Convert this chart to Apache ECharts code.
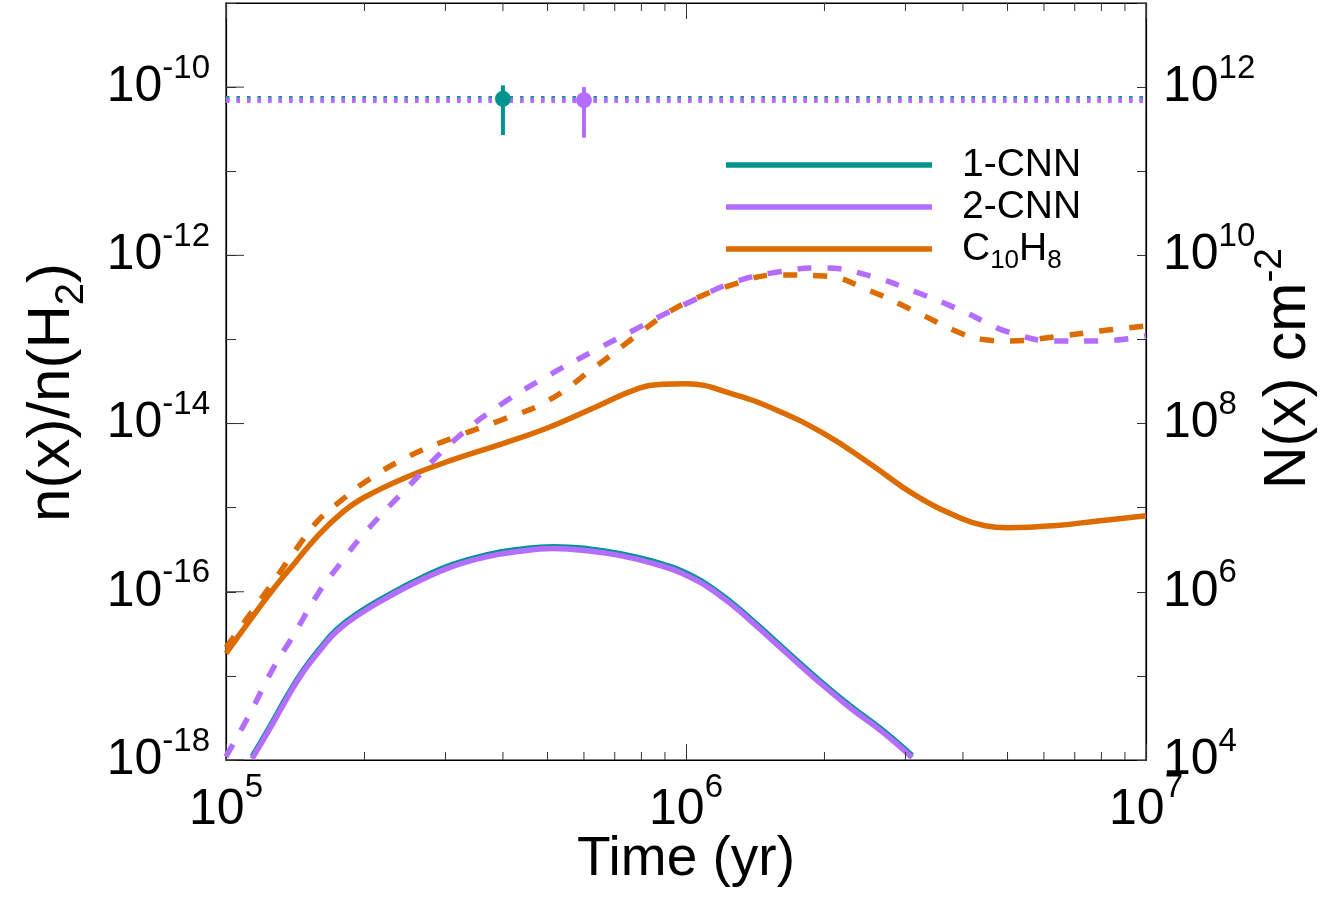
<!DOCTYPE html>
<html><head><meta charset="utf-8">
<script src="https://cdn.jsdelivr.net/npm/echarts@6/dist/echarts.min.js"></script>
<style>html,body{margin:0;padding:0;background:#fff}#c{width:1338px;height:901px}</style>
</head><body><div id="c"></div>
<script>
// ---- data ----
const timeGrid = [1e5, 1.122e5, 1.259e5, 1.413e5, 1.585e5, 1.778e5, 1.995e5, 2.512e5, 3.162e5, 3.981e5, 5.012e5, 6.310e5, 7.943e5, 8.913e5,
  1e6, 1.259e6, 1.585e6, 1.995e6, 2.512e6, 3.162e6, 3.981e6, 4.467e6, 5.012e6, 6.310e6, 7.943e6, 1e7];
const c10h8Solid = [1.85e-17, 4.43e-17, 1.03e-16, 2.22e-16, 4.65e-16, 8.5e-16, 1.32e-15, 2.40e-15, 3.82e-15, 5.75e-15, 8.9e-15, 1.54e-14, 2.66e-14, 2.93e-14,
  2.97e-14, 2.26e-14, 1.42e-14, 7.57e-15, 3.33e-15, 1.39e-15, 7.4e-16, 6.1e-16, 5.78e-16, 6.1e-16, 7.0e-16, 8.0e-16];
const c10h8Dashed = [2.17e-17, 5.21e-17, 1.25e-16, 3.08e-16, 7.0e-16, 1.21e-15, 1.98e-15, 4.15e-15, 6.97e-15, 1.11e-14, 1.87e-14, 4.60e-14, 1.20e-13, 1.91e-13,
  2.72e-13, 4.45e-13, 5.85e-13, 5.69e-13, 3.78e-13, 2.13e-13, 1.17e-13, 9.9e-14, 9.6e-14, 1.07e-13, 1.26e-13, 1.45e-13];
const cnn2Dashed = [1.10e-18, 3.39e-18, 1.16e-17, 3.27e-17, 9.5e-17, 2.22e-16, 4.91e-16, 1.87e-15, 6.59e-15, 1.72e-14, 3.70e-14, 7.33e-14, 1.41e-13, 1.96e-13,
  2.65e-13, 4.70e-13, 6.35e-13, 7.08e-13, 5.69e-13, 3.67e-13, 2.19e-13, 1.62e-13, 1.23e-13, 9.6e-14, 9.6e-14, 1.10e-13];

const cnnTime = [1.14e5, 1.25e5, 1.36e5, 1.47e5, 1.6e5, 1.74e5, 1.96e5, 2.24e5, 2.64e5, 3.1e5, 3.7e5, 4.36e5, 5.14e5, 6.1e5, 7.2e5, 8.5e5,
  9.85e5, 1.17e6, 1.38e6, 1.63e6, 1.93e6, 2.27e6, 2.68e6, 3.1e6];
const cnn1Solid = [1.10e-18, 2.58e-18, 5.85e-18, 1.16e-17, 2.11e-17, 3.56e-17, 5.82e-17, 9.0e-17, 1.44e-16, 2.10e-16, 2.77e-16, 3.21e-16, 3.44e-16,
  3.26e-16, 2.84e-16, 2.29e-16, 1.74e-16, 1.0e-16, 4.8e-17, 2.11e-17, 9.3e-18, 4.45e-18, 2.25e-18, 1.13e-18];
const cnn2Solid = [1.04e-18, 2.44e-18, 5.53e-18, 1.10e-17, 2.0e-17, 3.37e-17, 5.51e-17, 8.53e-17, 1.36e-16, 1.99e-16, 2.62e-16, 3.04e-16, 3.26e-16,
  3.08e-16, 2.69e-16, 2.16e-16, 1.64e-16, 9.5e-17, 4.55e-17, 2.0e-17, 8.8e-18, 4.21e-18, 2.13e-18, 1.07e-18];

const levelTime = [1e5, 1e7];
const cnn1Level = 7.26e-11;
const cnn2Level = 7.0e-11;

const obsTime = [4.0e5, 6.0e5];
const obsValue = [7.26e-11, 7.0e-11];
const obsLow = [2.69e-11, 2.5e-11];
const obsHigh = [1.05e-10, 1.0e-10];

const xMinorTicks = [2e5, 3e5, 4e5, 5e5, 6e5, 7e5, 8e5, 9e5, 2e6, 3e6, 4e6, 5e6, 6e6, 7e6, 8e6, 9e6];
const yLongTicks = [1e-18, 1e-16, 1e-14, 1e-12, 1e-10];

// ---- styling ----
const TEAL = '#009490', PURPLE = '#b46eff', ORANGE = '#dc6c00';
const FONT = 'Liberation Sans';
const TICK = '#333';
const zip = (xs, ys) => xs.map((x, i) => [x, ys[i]]);

function expLabel(v, evenOnly) {
  const e = Math.round(Math.log10(v));
  if (evenOnly && Math.abs(e) % 2 === 1) return '';
  return '{b|10}{s|' + e + '}';
}
const yLabelRich = {
  b: { fontSize: 50, lineHeight: 60, verticalAlign: 'bottom', fontFamily: FONT, color: '#000' },
  s: { fontSize: 33, verticalAlign: 'top', fontFamily: FONT, color: '#000' }
};
const xLabelRich = {
  b: { fontSize: 50, lineHeight: 64, verticalAlign: 'bottom', fontFamily: FONT, color: '#000' },
  s: { fontSize: 33, verticalAlign: 'top', fontFamily: FONT, color: '#000' }
};

function lineSeries(name, data, color, dashed) {
  return {
    name, type: 'line', data, symbol: 'none', smooth: 0.45,
    xAxisIndex: 0, yAxisIndex: 0,
    color,
    lineStyle: { color, width: 5.5, type: dashed ? [14, 16] : 'solid', cap: 'butt' },
    itemStyle: { color },
    z: 3
  };
}

const chart = echarts.init(document.getElementById('c'), null, { renderer: 'canvas' });
chart.setOption({
  backgroundColor: '#fff',
  animation: false,
  grid: { left: 226, right: 192, top: 3, bottom: 141, show: true, borderColor: '#000', borderWidth: 1.2,
    backgroundColor: 'transparent', containLabel: false, outerBoundsMode: 'none' },
  legend: {
    data: ['1-CNN', '2-CNN', 'C10H8'],
    orient: 'vertical', left: 721, top: 135,
    itemWidth: 206, itemHeight: 5.5, itemGap: -8,
    icon: 'rect', selectedMode: false,
    formatter: n => n === 'C10H8' ? '{n|C}{sub|10}{n|H}{sub|8}' : n,
    textStyle: {
      fontSize: 39, lineHeight: 50, color: '#000', fontFamily: FONT, padding: [0, 0, 0, 25],
      rich: {
        n: { fontSize: 39, lineHeight: 50, verticalAlign: 'middle', fontFamily: FONT, color: '#000' },
        sub: { fontSize: 26, verticalAlign: 'bottom', fontFamily: FONT, color: '#000' }
      }
    }
  },
  xAxis: [
    {
      type: 'log', logBase: 10, min: 1e5, max: 1e7, position: 'bottom',
      name: 'Time (yr)', nameLocation: 'middle', nameGap: 72, nameMoveOverlap: false,
      nameTextStyle: { fontSize: 55, fontFamily: FONT, color: '#000' },
      axisLine: { show: true, lineStyle: { color: '#000', width: 1.2 } },
      axisTick: { show: true, inside: true, length: 16, lineStyle: { color: TICK } },
      axisLabel: { margin: 11, formatter: v => expLabel(v, false), rich: xLabelRich },
      splitLine: { show: false }
    },
    {
      type: 'log', logBase: 10, min: 1e5, max: 1e7, position: 'top',
      axisLine: { show: true, lineStyle: { color: '#000', width: 1.2 } },
      axisTick: { show: true, inside: true, length: 16, lineStyle: { color: TICK } },
      axisLabel: { show: false }, splitLine: { show: false }
    }
  ],
  yAxis: [
    {
      type: 'log', logBase: 10, min: 1e-18, max: 1e-9, position: 'left',
      name: '{m|n(x)/n(H}{sub|2}{m|)}', nameLocation: 'middle', nameGap: 134, nameRotate: 90, nameMoveOverlap: false,
      nameTextStyle: { fontSize: 60, fontFamily: FONT, color: '#000', padding: [0, 22, 0, 0],
        rich: {
          m: { fontSize: 60, lineHeight: 70, verticalAlign: 'top', fontFamily: FONT, color: '#000' },
          sub: { fontSize: 40, verticalAlign: 'bottom', fontFamily: FONT, color: '#000' }
        } },
      axisLine: { show: true, lineStyle: { color: '#000', width: 1.2 } },
      axisTick: { show: true, inside: true, length: 10, lineStyle: { color: TICK } },
      axisLabel: { margin: 16, padding: [0, 0, 10, 0], formatter: v => expLabel(v, true), rich: yLabelRich },
      splitLine: { show: false }
    },
    {
      type: 'log', logBase: 10, min: 1e4, max: 1e13, position: 'right',
      name: '{m|N(x) cm}{s|-2}', nameLocation: 'middle', nameGap: 105, nameRotate: 90, nameMoveOverlap: false,
      nameTextStyle: { fontSize: 59, fontFamily: FONT, color: '#000', padding: [0, 0, 0, 26],
        rich: {
          m: { fontSize: 59, lineHeight: 67, verticalAlign: 'bottom', fontFamily: FONT, color: '#000' },
          s: { fontSize: 39, verticalAlign: 'top', fontFamily: FONT, color: '#000' }
        } },
      axisLine: { show: true, lineStyle: { color: '#000', width: 1.2 } },
      axisTick: { show: true, inside: true, length: 9, lineStyle: { color: TICK } },
      axisLabel: { margin: 17, padding: [0, 0, 10, 0], formatter: v => expLabel(v, true), rich: yLabelRich },
      splitLine: { show: false }
    }
  ],
  series: [
    {
      type: 'custom', name: 'xminor', silent: true, clip: false, z: 6,
      xAxisIndex: 0, yAxisIndex: 0,
      data: xMinorTicks.map(v => [v, 1e-18]),
      renderItem: (params, api) => {
        const x = api.coord([api.value(0), 1e-18])[0];
        const cs = params.coordSys;
        return { type: 'group', children: [
          { type: 'line', shape: { x1: x, y1: cs.y + cs.height, x2: x, y2: cs.y + cs.height - 8 }, style: { stroke: TICK, lineWidth: 1 } },
          { type: 'line', shape: { x1: x, y1: cs.y, x2: x, y2: cs.y + 8 }, style: { stroke: TICK, lineWidth: 1 } }
        ] };
      }
    },
    {
      type: 'custom', name: 'ylong', silent: true, clip: false, z: 6,
      xAxisIndex: 0, yAxisIndex: 0,
      data: yLongTicks.map(v => [1e5, v]),
      renderItem: (params, api) => {
        const y = api.coord([1e5, api.value(1)])[1];
        const cs = params.coordSys;
        return { type: 'line', shape: { x1: cs.x, y1: y, x2: cs.x + 18, y2: y }, style: { stroke: TICK, lineWidth: 1 } };
      }
    },
    lineSeries('C10H8', zip(timeGrid, c10h8Solid), ORANGE, false),
    lineSeries('1-CNN', zip(cnnTime, cnn1Solid), TEAL, false),
    lineSeries('2-CNN', zip(cnnTime, cnn2Solid), PURPLE, false),
    lineSeries('2-CNN model B', zip(timeGrid, cnn2Dashed), PURPLE, true),
    lineSeries('C10H8 model B', zip(timeGrid, c10h8Dashed), ORANGE, true),
    {
      name: '1-CNN level', type: 'line', symbol: 'none', data: levelTime.map(t => [t, cnn1Level]),
      lineStyle: { color: TEAL, width: 5.5, type: [3.5, 7], cap: 'butt' }, itemStyle: { color: TEAL }, z: 3
    },
    {
      name: '2-CNN level', type: 'line', symbol: 'none', data: levelTime.map(t => [t, cnn2Level]),
      lineStyle: { color: PURPLE, width: 5.5, type: [3.5, 7], cap: 'butt' }, itemStyle: { color: PURPLE }, z: 3
    },
    {
      type: 'custom', name: 'observations', clip: false, z: 7,
      xAxisIndex: 0, yAxisIndex: 0,
      data: obsTime.map((t, i) => [t, obsValue[i], obsLow[i], obsHigh[i]]),
      renderItem: (params, api) => {
        const col = [TEAL, PURPLE][params.dataIndex];
        const t = api.value(0);
        const c = api.coord([t, api.value(1)]);
        const lo = api.coord([t, api.value(2)]);
        const hi = api.coord([t, api.value(3)]);
        return { type: 'group', children: [
          { type: 'line', shape: { x1: lo[0], y1: lo[1], x2: hi[0], y2: hi[1] }, style: { stroke: col, lineWidth: 4 } },
          { type: 'circle', shape: { cx: c[0], cy: c[1], r: 8 }, style: { fill: col } }
        ] };
      }
    }
  ]
});
</script>
</body></html>
